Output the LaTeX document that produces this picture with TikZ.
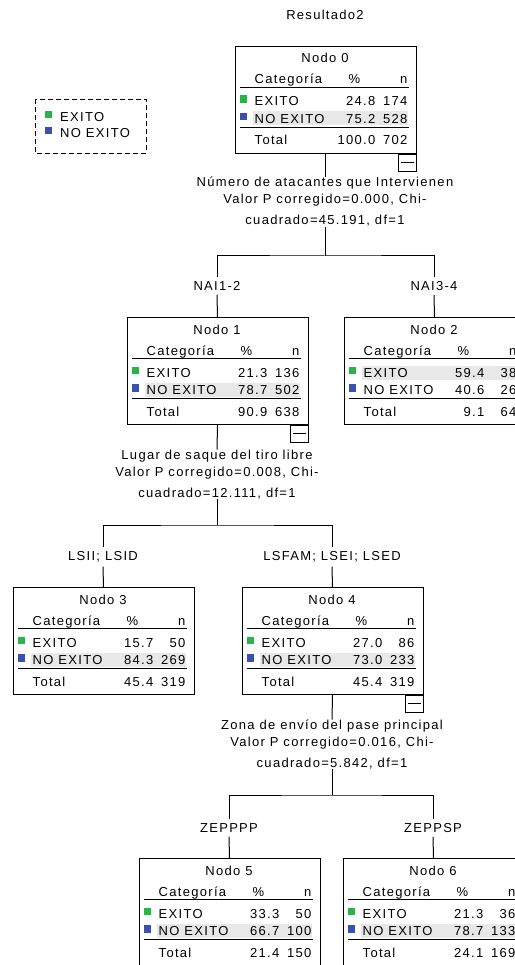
\documentclass[tikz,border=0pt]{standalone}
\usepackage{fontspec}
\setmainfont{Liberation Sans}[LetterSpace=10]
\definecolor{exgreen}{RGB}{40,180,70}
\definecolor{exblue}{RGB}{60,80,175}
\definecolor{hlgray}{RGB}{232,232,232}
\tikzset{
  every node/.style={font=\fontsize{13}{15}\selectfont, inner sep=0pt},
  nodebox/.style={draw, line width=1pt, minimum width=181pt, minimum height=107pt, anchor=north west},
  splittext/.style={align=center, font=\fontsize{13}{17}\selectfont, anchor=north},
  branchlabel/.style={inner ysep=4pt},
  conn/.style={line width=1pt},
  rowline/.style={line width=0.9pt},
  totline/.style={line width=1.5pt},
  legendbox/.style={dash pattern=on 5pt off 3pt, line width=0.9pt},
}
\newcommand\HL{2}
\newcommand\ctnode[9]{%
 \begin{scope}[shift={(#2)}]
  \node[nodebox] (#1) at (0,0) {};
  \ifnum\HL=1 \fill[hlgray] (18,48.5) rectangle (173,62.5);\else\fill[hlgray] (18,65.5) rectangle (173,79.5);\fi
  \node[anchor=base] (#1-t) at (90.5,17) {Nodo #3};
  \node[anchor=base west] (#1-hc) at (20,38) {Categoría};
  \node[anchor=base] (#1-hp) at (120,38) {\%};
  \node[anchor=base east] (#1-hn) at (173,38) {n};
  \draw[rowline] (5,41.5) -- (174,41.5);
  \fill[exgreen] (5,49.5) rectangle (12.5,57);
  \node[anchor=base west] (#1-a) at (20,60) {EXITO};
  \node[anchor=base east] (#1-ap) at (141,60) {#4};
  \node[anchor=base east] (#1-an) at (173,60) {#5};
  \fill[exblue] (5,67) rectangle (12.5,74.5);
  \node[anchor=base west] (#1-b) at (20,77.5) {NO EXITO};
  \node[anchor=base east] (#1-bp) at (141,77.5) {#6};
  \node[anchor=base east] (#1-bn) at (173,77.5) {#7};
  \draw[totline] (5,81.5) -- (174,81.5);
  \node[anchor=base west] (#1-c) at (20,99) {Total};
  \node[anchor=base east] (#1-cp) at (141,99) {#8};
  \node[anchor=base east] (#1-cn) at (173,99) {#9};
 \end{scope}}
\newcommand\collapse[1]{%
  \draw[line width=0.9pt] ([xshift=-18pt]#1.south east) rectangle ++(18,17);
  \draw[line width=0.9pt] ([xshift=-15.5pt,yshift=-8.5pt]#1.south east) -- ++(13,0);}
\begin{document}
\begin{tikzpicture}[x=1pt,y=-1pt]
\useasboundingbox (0,0) rectangle (514,965);
\fill[white] (0,0) rectangle (514,965);
\node[anchor=base] (title) at (325,19.5) {Resultado2};
% legend
\draw[legendbox] (35,99) rectangle (146,153);
\fill[exgreen] (45,111) rectangle (52,118);
\node[anchor=base west] (lg1) at (60,121.5) {EXITO};
\fill[exblue] (45,127) rectangle (52,134);
\node[anchor=base west] (lg2) at (60,137.5) {NO EXITO};
% nodes
\ctnode{n0}{234.5,46}{0}{24.8}{174}{75.2}{528}{100.0}{702}
\ctnode{n1}{126.5,317}{1}{21.3}{136}{78.7}{502}{90.9}{638}
\renewcommand\HL{1}
\ctnode{n2}{343.5,317}{2}{59.4}{38}{40.6}{26}{9.1}{64}
\renewcommand\HL{2}
\ctnode{n3}{12.5,587}{3}{15.7}{50}{84.3}{269}{45.4}{319}
\ctnode{n4}{241.5,587}{4}{27.0}{86}{73.0}{233}{45.4}{319}
\ctnode{n5}{138.5,858}{5}{33.3}{50}{66.7}{100}{21.4}{150}
\ctnode{n6}{342.5,858}{6}{21.3}{36}{78.7}{133}{24.1}{169}
\collapse{n0}\collapse{n1}\collapse{n4}
% split 0
\node[splittext] (s0) at (325,177) {Número de atacantes que Intervienen\\Valor P corregido=0.000, Chi-\\[4pt]cuadrado=45.191, df=1};
\coordinate (j0) at (325,256);
\node[branchlabel] (l1) at (217,286) {NAI1-2};
\node[branchlabel] (l2) at (434,286) {NAI3-4};
\draw[conn] (n0.south) -- (n0.south |- s0.north);
\draw[conn] (s0.south) -- (j0);
\draw[conn] (l1.north) |- (j0) -| (l2.north);
\draw[conn] (l1.south) -- (n1.north);
\draw[conn] (l2.south) -- (n2.north);
% split 1
\node[splittext] (s1) at (217,449.5) {Lugar de saque del tiro libre\\Valor P corregido=0.008, Chi-\\[4pt]cuadrado=12.111, df=1};
\coordinate (j1) at (217,525);
\node[branchlabel] (l3) at (103,557) {LSII; LSID};
\node[branchlabel] (l4) at (332,557) {LSFAM; LSEI; LSED};
\draw[conn] (n1.south) -- (s1.north);
\draw[conn] (s1.south) -- (j1);
\draw[conn] (l3.north) |- (j1) -| (l4.north);
\draw[conn] (l3.south) -- (n3.north);
\draw[conn] (l4.south) -- (n4.north);
% split 2
\node[splittext] (s2) at (332,719.5) {Zona de envío del pase principal\\Valor P corregido=0.016, Chi-\\[4pt]cuadrado=5.842, df=1};
\coordinate (j2) at (332,795);
\node[branchlabel] (l5) at (229,828) {ZEPPPP};
\node[branchlabel] (l6) at (433,828) {ZEPPSP};
\draw[conn] (n4.south) -- (s2.north);
\draw[conn] (s2.south) -- (j2);
\draw[conn] (l5.north) |- (j2) -| (l6.north);
\draw[conn] (l5.south) -- (n5.north);
\draw[conn] (l6.south) -- (n6.north);
\end{tikzpicture}
\end{document}
